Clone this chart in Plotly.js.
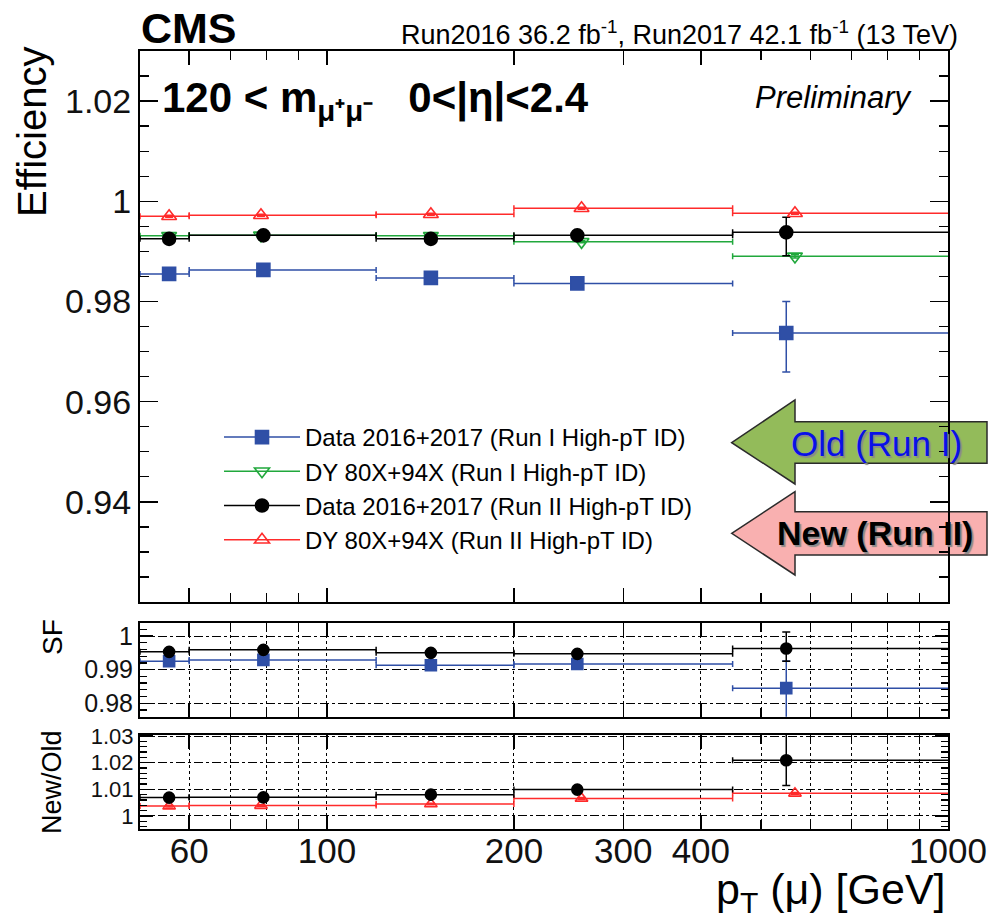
<!DOCTYPE html>
<html>
<head>
<meta charset="utf-8">
<script src="https://cdn.plot.ly/plotly-3.0.1.min.js"></script>
<style>
html,body{margin:0;padding:0;background:#fff;}
#chart{width:990px;height:918px;}
</style>
</head>
<body>
<div id="chart"></div>
<script>
// ---------------- data ----------------
const binLow  = [50, 60, 120, 200, 450];
const binHigh = [60, 120, 200, 450, 2000];
const xData   = [55.7, 79, 147, 253, 549];
const xMC     = [55.7, 78.3, 147, 257, 567];

// Efficiency (main panel)
const effDataRunI      = [0.9855, 0.9863, 0.9847, 0.9836, 0.9737];
const effDataRunIUp    = [0.0003, 0.0003, 0.0003, 0.0003, 0.0063];
const effDataRunIDn    = [0.0003, 0.0003, 0.0003, 0.0003, 0.0078];
const effMCRunI        = [0.9931, 0.9932, 0.9931, 0.9919, 0.9890];
const effMCRunIErr     = [0.0002, 0.0002, 0.0002, 0.0002, 0.0003];
const effDataRunII     = [0.9925, 0.9932, 0.9925, 0.9932, 0.9938];
const effDataRunIIUp   = [0.0003, 0.0003, 0.0003, 0.0003, 0.0030];
const effDataRunIIDn   = [0.0003, 0.0003, 0.0003, 0.0003, 0.0047];
const effMCRunII       = [0.9970, 0.9972, 0.9974, 0.9986, 0.9976];
const effMCRunIIErr    = [0.0002, 0.0002, 0.0002, 0.0002, 0.0002];

// Scale factors (middle panel)
const sfRunII    = [0.9953, 0.9959, 0.9950, 0.9947, 0.9963];
const sfRunIIUp  = [0.0004, 0.0004, 0.0004, 0.0004, 0.0049];
const sfRunIIDn  = [0.0004, 0.0004, 0.0004, 0.0004, 0.0038];
const sfRunI     = [0.9925, 0.9929, 0.9913, 0.9917, 0.9845];
const sfRunIUp   = [0.0004, 0.0004, 0.0004, 0.0004, 0.0081];
const sfRunIDn   = [0.0004, 0.0004, 0.0004, 0.0004, 0.0100];

// New/Old ratio (bottom panel)
const ratioData    = [1.0069, 1.0070, 1.0080, 1.0099, 1.0209];
const ratioDataUp  = [0.0005, 0.0005, 0.0005, 0.0005, 0.0120];
const ratioDataDn  = [0.0005, 0.0005, 0.0005, 0.0005, 0.0095];
const ratioMC      = [1.0037, 1.0039, 1.0045, 1.0066, 1.0085];
const ratioMCErr   = [0.0003, 0.0003, 0.0003, 0.0003, 0.0003];

const legendNames = [
  "Data 2016+2017 (Run I High-pT ID)",
  "DY 80X+94X (Run I High-pT ID)",
  "Data 2016+2017 (Run II High-pT ID)",
  "DY 80X+94X (Run II High-pT ID)"
];
const xTickVals   = [60, 100, 200, 300, 400, 1000];
const xTickText   = ["60", "100", "200", "300", "400", "1000"];
const xMinorVals  = [70, 80, 90, 500, 600, 700, 800, 900];

// ---------------- styles ----------------
const BLUE = '#2f4fa6', GREEN = '#21a83c', BLACK = '#000000', RED = '#ff2b2b';
const FONT = 'Liberation Sans, Arial, Helvetica, sans-serif';
const W = 990, H = 918;
const px = v => v / W;
const py = v => 1 - v / H;

function xerr(xs){
  return {type:'data', symmetric:false,
    array: xs.map((x,i)=>binHigh[i]-x),
    arrayminus: xs.map((x,i)=>x-binLow[i])};
}
function series(xs, ys, up, dn, color, symbol, size, xa, ya, name){
  return {
    type:'scatter', mode:'markers', x:xs, y:ys, xaxis:xa, yaxis:ya,
    name:name, showlegend:false, cliponaxis:true,
    marker:{symbol:symbol, size:size, color:color, line:{color:color, width:1.6}},
    error_x:Object.assign(xerr(xs), {color:color, thickness:1.5, width:3}),
    error_y:{type:'data', symmetric:false, array:up, arrayminus:dn, color:color, thickness:1.5, width:4}
  };
}
const traces = [
  // main
  series(xData, effDataRunI, effDataRunIUp, effDataRunIDn, BLUE, 'square', 13, 'x', 'y', legendNames[0]),
  series(xMC, effMCRunI, effMCRunIErr, effMCRunIErr, GREEN, 'triangle-down-open', 13, 'x', 'y', legendNames[1]),
  series(xData, effDataRunII, effDataRunIIUp, effDataRunIIDn, BLACK, 'circle', 13, 'x', 'y', legendNames[2]),
  series(xMC, effMCRunII, effMCRunIIErr, effMCRunIIErr, RED, 'triangle-up-open', 13, 'x', 'y', legendNames[3]),
  // SF
  series(xData, sfRunI, sfRunIUp, sfRunIDn, BLUE, 'square', 11, 'x2', 'y2', 'SF Run I'),
  series(xData, sfRunII, sfRunIIUp, sfRunIIDn, BLACK, 'circle', 11, 'x2', 'y2', 'SF Run II'),
  // ratio
  series(xMC, ratioMC, ratioMCErr, ratioMCErr, RED, 'triangle-up-open', 11, 'x3', 'y3', 'MC New/Old'),
  series(xData, ratioData, ratioDataUp, ratioDataDn, BLACK, 'circle', 11, 'x3', 'y3', 'Data New/Old')
];
// legend proxies
const legStyles = [[BLUE,'square'],[GREEN,'triangle-down-open'],[BLACK,'circle'],[RED,'triangle-up-open']];
legendNames.forEach((n,i)=>{
  traces.push({type:'scatter', mode:'lines+markers', x:[null], y:[null], xaxis:'x', yaxis:'y',
    name:n, legendgroup:'g'+i, showlegend:true,
    line:{color:legStyles[i][0], width:1.5},
    marker:{symbol:legStyles[i][1], size:13, color:legStyles[i][0], line:{color:legStyles[i][0], width:1.6}}});
});

const xDom = [px(140), px(948)];
function xaxisDef(anchor, showLabels, grid){
  return {
    type:'log', range:[Math.log10(50), 3], domain:xDom, anchor:anchor,
    tickmode:'array', tickvals:xTickVals, ticktext:xTickText,
    showticklabels:showLabels, ticks:'inside', ticklen:14, tickwidth:1.5, tickcolor:'#000',
    showline:true, linecolor:'#000', linewidth:2, mirror:'ticks',
    showgrid:grid, gridcolor:'#000', griddash:'dot', gridwidth:1,
    zeroline:false, ticklabelstandoff:-10,
    tickfont:{family:FONT, size:35, color:'#111'},
    minor:{tickmode:'array', tickvals:xMinorVals, ticks:'inside', ticklen:9, tickwidth:1.3, tickcolor:'#000',
      showgrid:grid, gridcolor:'#000', griddash:'dot', gridwidth:1}
  };
}
function yaxisDef(dom, range, tickvals, minorDtick, fontSize, majLen, minLen, grid){
  return {
    domain:dom, range:range, anchor: null,
    tickmode:'array', tickvals:tickvals, ticktext:tickvals.map(v=>String(v)),
    ticks:'inside', ticklen:majLen, tickwidth:1.5, tickcolor:'#000',
    showline:true, linecolor:'#000', linewidth:2, mirror:'ticks',
    showgrid:grid, gridcolor:'#000', griddash:'dashdot', gridwidth:1,
    zeroline:false,
    tickfont:{family:FONT, size:fontSize, color:'#111'},
    minor:{dtick:minorDtick, tick0:0, ticks:'inside', ticklen:minLen, tickwidth:1.3, tickcolor:'#000', showgrid:false}
  };
}
const yMain = yaxisDef([py(602), py(51)], [0.92, 1.03], [0.94, 0.96, 0.98, 1, 1.02], 0.005, 34, 18, 9, false);
yMain.anchor = 'x';
const ySF = yaxisDef([py(716.7), py(623.3)], [0.976, 1.0038], [0.98, 0.99, 1], 0.002, 25, 13, 7, true);
ySF.anchor = 'x2';
const yR = yaxisDef([py(829.3), py(735)], [0.995, 1.0304], [1, 1.01, 1.02, 1.03], 0.002, 22, 13, 7, true);
yR.anchor = 'x3';

function ann(text, x, y, o){
  return Object.assign({text:text, x:px(x), y:py(y), xref:'paper', yref:'paper', showarrow:false,
    xanchor:'center', yanchor:'middle', font:{family:FONT, size:20, color:'#000'}}, o||{});
}
const annotations = [
  ann('<b>CMS</b>', 139, 28, {xanchor:'left', font:{family:FONT, size:43, color:'#000'}}),
  ann('Run2016 36.2 fb<sup>-1</sup>, Run2017 42.1 fb<sup>-1</sup> (13 TeV)', 960, 33, {xanchor:'right', font:{family:FONT, size:27, color:'#000'}}),
  ann('<b>120 &lt; m<sub>μ⁺μ⁻</sub>&nbsp;&nbsp;&nbsp;0&lt;|η|&lt;2.4</b>', 160, 100, {xanchor:'left', font:{family:FONT, size:42, color:'#000'}}),
  ann('<i>Preliminary</i>', 834, 97, {font:{family:FONT, size:31, color:'#000'}}),
  ann('Efficiency', 32, 132, {textangle:-90, font:{family:FONT, size:40, color:'#000'}}),
  ann('SF', 52, 637, {textangle:-90, font:{family:FONT, size:28, color:'#000'}}),
  ann('New/Old', 52, 782, {textangle:-90, font:{family:FONT, size:27, color:'#000'}}),
  ann('p<sub>T</sub> (μ) [GeV]', 948, 892, {xanchor:'right', font:{family:FONT, size:43, color:'#000'}}),
  ann('Old (Run I)', 876, 443, {font:{family:FONT, size:35, color:'#0a10e8', shadow:'2px 2px 1px #8a8a8a'}}),
  ann('<b>New (Run II)</b>', 875, 533, {font:{family:FONT, size:34, color:'#000', shadow:'2px 2px 1px #8a8a8a'}})
];
function pathFrom(pts){
  return 'M' + pts.map(p=>px(p[0])+','+py(p[1])).join('L') + 'Z';
}
const shapes = [
  {type:'path', xref:'paper', yref:'paper', layer:'below',
   path:pathFrom([[731.7,442.7],[795,400],[795,421.7],[987,421.7],[987,463.3],[795,463.3],[795,484]]),
   fillcolor:'#93bb5a', line:{color:'#2b2b2b', width:1.5}},
  {type:'path', xref:'paper', yref:'paper', layer:'below',
   path:pathFrom([[731.7,533.3],[795,491.7],[795,511.7],[987,511.7],[987,555],[795,555],[795,575]]),
   fillcolor:'#f9b0b0', line:{color:'#2b2b2b', width:1.5}}
];

const layout = {
  width:W, height:H, margin:{l:0, r:0, t:0, b:0},
  paper_bgcolor:'#fff', plot_bgcolor:'rgba(0,0,0,0)',
  font:{family:FONT, color:'#000'},
  xaxis: xaxisDef('y', false, false),
  xaxis2: Object.assign(xaxisDef('y2', false, true), {matches:'x'}),
  xaxis3: Object.assign(xaxisDef('y3', true, true), {matches:'x'}),
  yaxis: yMain, yaxis2: ySF, yaxis3: yR,
  showlegend:true,
  legend:{x:px(219), y:py(415), xanchor:'left', yanchor:'top', bgcolor:'rgba(0,0,0,0)',
    borderwidth:0, font:{family:FONT, size:24, color:'#000'}, traceorder:'grouped', tracegroupgap:0, itemwidth:76},
  annotations:annotations, shapes:shapes
};
Plotly.newPlot('chart', traces, layout, {staticPlot:true, displayModeBar:false});
</script>
</body>
</html>
